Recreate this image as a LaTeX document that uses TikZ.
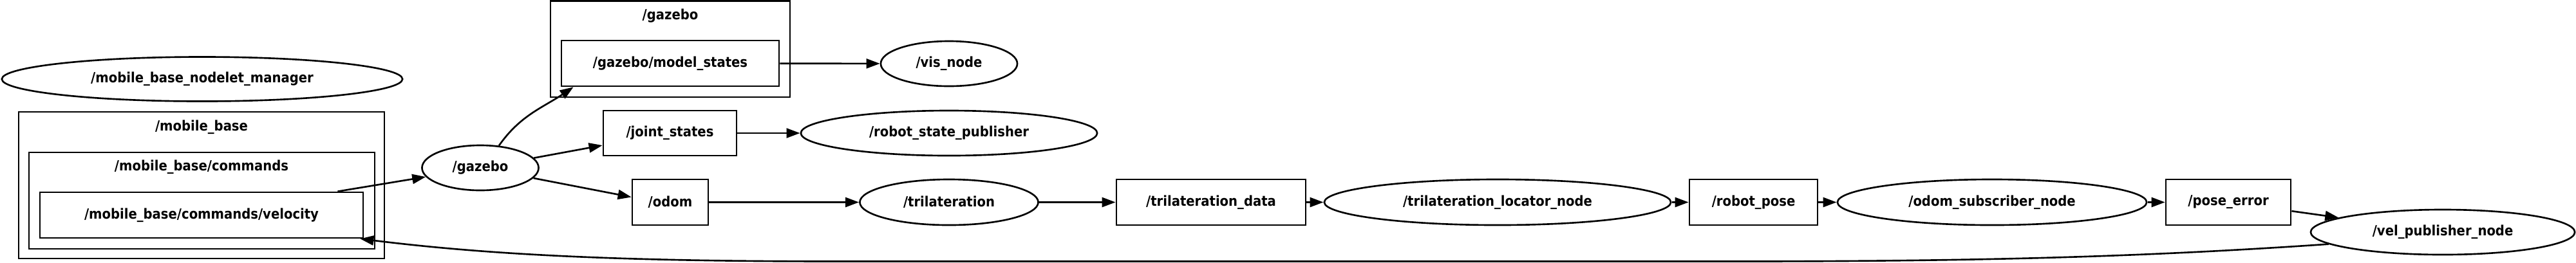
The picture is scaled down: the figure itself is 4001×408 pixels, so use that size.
\documentclass[tikz,border=0pt]{standalone}
\usepackage{fontspec}
\usepackage{tikz}
\usetikzlibrary{arrows.meta, shapes.geometric}
\newfontfamily\rosfont{DejaVu Sans Condensed Bold}

\begin{document}
\begin{tikzpicture}[x=0.01cm, y=-0.01cm, line width=0.75pt,
  font=\rosfont\fontsize{6.2}{7.4}\selectfont,
  rosnode/.style={draw, ellipse, inner sep=0pt, minimum height=0.70cm},
  topic/.style={draw, rectangle, inner sep=0pt, minimum height=0.71cm},
  edge/.style={-{Triangle[length=0.21cm, width=0.15cm]}}]
  \useasboundingbox (0,0) rectangle (4001,408);
  % clusters
  \draw (29,174) rectangle (597,402);
  \node (mblabel) at (313,198) {/mobile\_base};
  \draw (45,237) rectangle (582,387);
  \node (cmdlabel) at (313,260) {/mobile\_base/commands};
  \draw (855,1.3) rectangle (1227,151);
  \node (gzlabel) at (1041,25) {/gazebo};
  % nodes and topics
  \node[rosnode, minimum width=6.22cm, minimum height=0.69cm] (mgr) at (314,123) {/mobile\_base\_nodelet\_manager};
  \node[topic, minimum width=5.02cm] (vel) at (313,334.5) {/mobile\_base/commands/velocity};
  \node[rosnode, minimum width=1.81cm] (gz) at (746,261) {/gazebo};
  \node[topic, minimum width=3.38cm] (ms) at (1041,98.5) {/gazebo/model\_states};
  \node[rosnode, minimum width=2.12cm] (vis) at (1474,99) {/vis\_node};
  \node[topic, minimum width=2.07cm, minimum height=0.70cm] (js) at (1040.5,207) {/joint\_states};
  \node[rosnode, minimum width=4.60cm] (rsp) at (1474,207) {/robot\_state\_publisher};
  \node[topic, minimum width=1.18cm] (odom) at (1041,314.5) {/odom};
  \node[rosnode, minimum width=2.77cm, minimum height=0.71cm] (tri) at (1474,314.5) {/trilateration};
  \node[topic, minimum width=2.94cm] (tridata) at (1881,314.5) {/trilateration\_data};
  \node[rosnode, minimum width=5.38cm, minimum height=0.71cm] (loc) at (2326,314.5) {/trilateration\_locator\_node};
  \node[topic, minimum width=1.99cm] (pose) at (2723.5,314.5) {/robot\_pose};
  \node[rosnode, minimum width=4.80cm, minimum height=0.71cm] (osub) at (3094,314.5) {/odom\_subscriber\_node};
  \node[topic, minimum width=1.94cm] (perr) at (3461,314.5) {/pose\_error};
  \node[rosnode, minimum width=4.10cm] (velpub) at (3794,361) {/vel\_publisher\_node};
  % edges
  \draw[edge] ([xshift=-0.41cm]vel.north east) -- (gz);
  \draw[edge] (gz.50) to[out=55, in=214] ([xshift=0.20cm]ms.south west);
  \draw[edge] (gz) -- ([yshift=-0.19cm]js.west);
  \draw[edge] (gz) -- ([yshift=0.08cm]odom.west);
  \draw[edge] (ms) -- (vis);
  \draw[edge] (js) -- (rsp);
  \draw[edge] (odom) -- (tri);
  \draw[edge] (tri) -- (tridata);
  \draw[edge] (tridata) -- (loc);
  \draw[edge] (loc) -- (pose);
  \draw[edge] (pose) -- (osub);
  \draw[edge] (osub) -- (perr);
  \draw[edge] (perr) -- (velpub);
  \draw[edge] (velpub.186) .. controls (3350,398) and (3100,406.5) .. (2700,406.5)
    -- (1300,406.5) .. controls (950,406.5) and (750,395) .. ([xshift=-0.06cm]vel.south east);
\end{tikzpicture}
\end{document}
